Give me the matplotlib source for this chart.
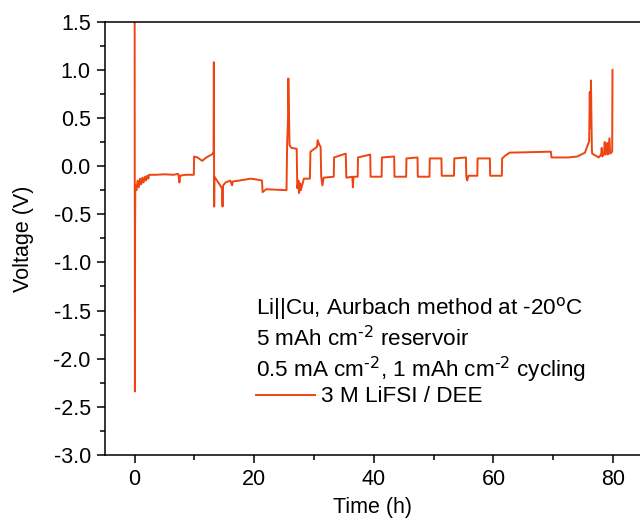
import matplotlib
matplotlib.use('Agg')
import matplotlib.pyplot as plt
from matplotlib.ticker import MultipleLocator

plt.rcParams['font.family'] = ['Liberation Sans', 'DejaVu Sans']
plt.rcParams['mathtext.default'] = 'regular'

# voltage trace (time in h, voltage in V)
time_h = [0.00, 0.03, 0.04, 0.05, 0.08, 0.12, 0.3, 0.5, 0.7, 0.9, 1.1, 1.3, 1.5, 1.7, 1.9, 2.1, 2.3, 2.4,
          3.5, 5.0, 6.5, 7.3, 7.5, 7.6, 8.5, 9.9,
          9.95, 10.5, 11.3, 12.0, 13.0, 13.2, 13.25, 13.3, 13.35, 14.1, 14.6, 14.7, 14.8, 15.2, 16.0, 16.3,
          16.4, 17.5, 19.4, 20.5, 21.3, 21.4, 22.0, 25.4,
          25.5, 25.65, 25.7, 25.8, 25.9, 26.2, 27.1, 27.2, 27.4, 27.5, 27.7, 27.8, 28.3, 29.3,
          29.4, 30.5, 30.6, 30.9, 31.1, 31.2, 31.4, 31.6, 33.3,
          33.35, 35.3, 35.4, 36.4, 36.5, 36.6, 37.3, 37.35, 39.4, 39.45, 41.3, 41.35, 43.4, 43.45, 45.4,
          45.45, 47.3, 47.35, 49.3, 49.35, 51.3, 51.35, 53.4, 53.45, 55.4, 55.45, 55.6, 55.8, 57.3,
          57.35, 59.4, 59.45, 61.4, 61.45, 62.0, 62.7, 69.6, 69.7, 72.5, 74.0, 75.3,
          76.0, 76.1, 76.2, 76.3, 76.45, 76.5, 77.6, 78.0, 78.1, 78.2, 78.5, 78.6, 78.7, 79.0, 79.1,
          79.4, 79.5, 79.85, 79.9]
voltage = [2.5, -1.6, -0.9, -2.34, -0.6, -0.2, -0.25, -0.15, -0.22, -0.13, -0.19, -0.12, -0.17, -0.11, -0.15, -0.10, -0.13, -0.09,
           -0.09, -0.085, -0.09, -0.08, -0.17, -0.10, -0.09, -0.09,
           0.10, 0.09, 0.055, 0.09, 0.125, 0.15, 1.08, -0.42, -0.11, -0.18, -0.23, -0.42, -0.20, -0.17, -0.15, -0.20,
           -0.16, -0.15, -0.13, -0.14, -0.15, -0.27, -0.24, -0.25,
           0.23, 0.5, 0.91, 0.6, 0.22, 0.19, 0.18, -0.23, -0.15, -0.28, -0.18, -0.25, -0.13, -0.13,
           0.15, 0.20, 0.27, 0.22, 0.20, -0.11, -0.20, -0.12, -0.11,
           0.09, 0.13, -0.12, -0.11, -0.22, -0.11, -0.11, 0.09, 0.12, -0.11, -0.11, 0.09, 0.10, -0.11, -0.11,
           0.08, 0.09, -0.11, -0.11, 0.08, 0.08, -0.10, -0.10, 0.08, 0.09, -0.10, -0.15, -0.10, -0.10,
           0.08, 0.08, -0.10, -0.10, 0.08, 0.11, 0.14, 0.15, 0.09, 0.09, 0.10, 0.14,
           0.26, 0.77, 0.40, 0.89, 0.18, 0.13, 0.09, 0.12, 0.19, 0.10, 0.13, 0.25, 0.12, 0.24, 0.12,
           0.29, 0.13, 0.15, 1.0]

notes = [r'Li||Cu, Aurbach method at -20$^{\text{o}}$C',
         r'5 mAh cm$^{\text{-2}}$ reservoir',
         r'0.5 mA cm$^{\text{-2}}$, 1 mAh cm$^{\text{-2}}$ cycling']
series_label = '3 M LiFSI / DEE'
line_color = '#EE4411'

fig = plt.figure(figsize=(6.4, 5.24), dpi=100)
ax = fig.add_axes([0.1636, 0.1317, 0.8364, 0.8269])
ax.plot(time_h, voltage, color=line_color, lw=1.4, label=series_label)

ax.set_xlim(-5, 84.5)
ax.set_ylim(-3.0, 1.5)
ax.xaxis.set_major_locator(MultipleLocator(20))
ax.xaxis.set_minor_locator(MultipleLocator(10))
ax.yaxis.set_major_locator(MultipleLocator(0.5))
ax.yaxis.set_minor_locator(MultipleLocator(0.25))
ax.yaxis.set_major_formatter(plt.FormatStrFormatter('%.1f'))
ax.tick_params(which='both', direction='out', labelsize=15.5, width=1.1, top=False, right=False)
ax.tick_params(which='major', length=6, pad=4)
ax.tick_params(which='minor', length=3.5)
for s in ['left', 'bottom', 'top']:
    ax.spines[s].set_linewidth(1.1)
ax.spines['right'].set_visible(False)

ax.set_xlabel('Time (h)', fontsize=15.5, labelpad=5)
ax.set_ylabel('Voltage (V)', fontsize=15.5, labelpad=14)

for i, t in enumerate(notes):
    fig.text(256 / 640, 1 - (308 + 31 * i) / 524, t, fontsize=16.2, va='center', ha='left')

ax.legend(loc='center left', bbox_to_anchor=(247 / 640, 1 - 397 / 524), bbox_transform=fig.transFigure,
          frameon=False, fontsize=16.2, handlelength=2.6, handletextpad=0.3, borderaxespad=0)

fig.savefig('out.png', dpi=100)
